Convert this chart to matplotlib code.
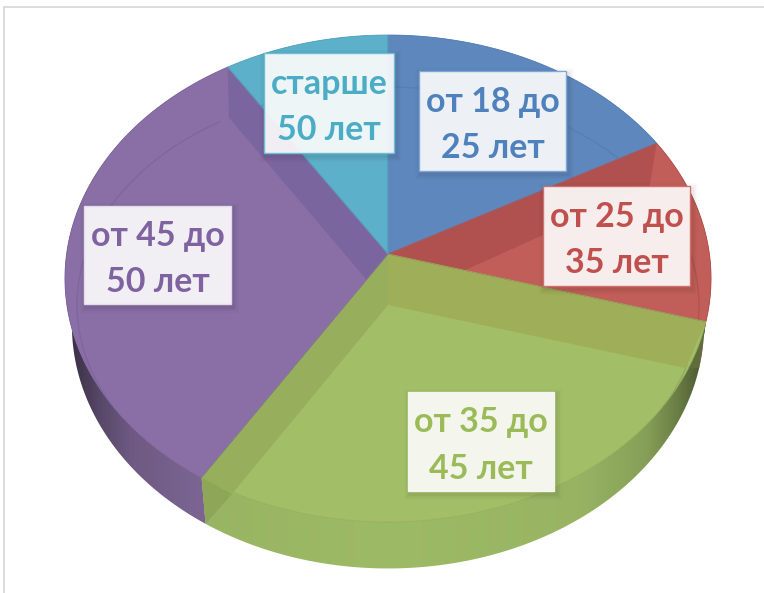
import numpy as np
import matplotlib
matplotlib.use("Agg")
import matplotlib.pyplot as plt
from matplotlib.patches import Polygon, Rectangle

# ---- data ----
categories = ["от 18 до\n25 лет", "от 25 до\n35 лет", "от 35 до\n45 лет", "от 45 до\n50 лет", "старше\n50 лет"]
shares = [17.0, 12.4, 29.5, 32.0, 9.1]

# ---- style ----
top_colors = ["#5e88bd", "#c25e59", "#a2bf68", "#8a6fa6", "#5cb0c9"]
wall_colors = ["#4f77a8", "#a84f4b", "#9dba66", "#7f6897", "#4f9cb2"]
text_colors = ["#4f81bd", "#c0504d", "#9bbb59", "#7f63a1", "#4bacc6"]
box_edges = ["#7fa6d6", "#d06f6b", "#f4f6ee", "#e2dbea", "#6dbdd4"]
cut_colors = [None, "#b0504f", "#9fae58", "#97af5d", "#7a659f"]
arc_colors = ["#5680b4", "#b2534f", "#93ad5a", "#7f66a0", "#55a5bd"]
label_boxes = [(419, 71, 147, 100), (543, 186, 147, 100), (408, 392, 146, 99),
               (84, 206, 147, 98), (264, 53, 130, 100)]
inner_skew_deg = [0, -4, 1, -2, 2]

# ---- pie projection, figure pixels ----
AX, AY = 388.0, 254.0       # apex of top face
B, A, K = 321.4, 241.0, 0.1006
BOT_Y, BOT_B = 300.5, 314.5  # bottom rim
IN_X, IN_Y, IN_RX, IN_RY = 388.0, 305.0, 311.0, 218.0  # visible inner rim


def rim(phi, cx=AX, cy=AY, b=B):
    X, Y = np.sin(phi), np.cos(phi)
    d = 1 + K * Y
    return np.column_stack([cx + b * X / d, cy - A * Y / d])


def inner(phi):
    return np.column_stack([IN_X + IN_RX * np.sin(phi), IN_Y - IN_RY * np.cos(phi)])


def arc(a0, a1, n=160):
    return np.linspace(a0, a1, n)


edges = 2 * np.pi * np.concatenate([[0], np.cumsum(shares)]) / np.sum(shares)
skew = np.radians(inner_skew_deg + [0])

fig = plt.figure(figsize=(7.64, 5.93), dpi=100)
ax = fig.add_axes([0, 0, 1, 1])
ax.set_xlim(0, 764)
ax.set_ylim(593, 0)
ax.axis("off")

# outer frame of the screenshot
ax.plot([3.5, 3.5, 764], [593, 6.5, 6.5], color="#dcdcdc", lw=1.4, solid_joinstyle="miter")

# side walls, shaded towards the silhouette
xs = np.linspace(60, 720, 661)
dist = np.abs(xs - AX) / BOT_B
shade = np.interp(dist, [0, .6, .82, .92, 1], [1, .97, .86, .68, .48])
for i in range(len(shares)):
    ph = arc(edges[i], edges[i + 1])
    pts = np.vstack([rim(ph), rim(ph[::-1], AX, BOT_Y, BOT_B)])
    poly = Polygon(pts, closed=True, fc="none", ec="none", transform=ax.transData)
    ax.add_patch(poly)
    rgb = np.array(matplotlib.colors.to_rgb(wall_colors[i]))
    img = (shade[:, None] * rgb)[None, :, :]
    im = ax.imshow(img, extent=(60, 720, 600, 0), aspect="auto", zorder=1, interpolation="bilinear")
    im.set_clip_path(poly)
ax.set_xlim(0, 764)
ax.set_ylim(593, 0)

# dark corners where the cut faces meet the walls
for j, col in [(2, "#5f6d3a"), (3, "#8da658")]:
    p = np.array([edges[j]])
    tri = np.vstack([rim(p), inner(p + skew[j]), rim(p, AX, BOT_Y, BOT_B)])
    ax.add_patch(Polygon(tri, closed=True, fc=col, ec="none", zorder=2))

# top faces
for i in range(len(shares)):
    ph = arc(edges[i], edges[i + 1])
    pts = np.vstack([[AX, AY], rim(ph)])
    face = Polygon(pts, closed=True, fc=top_colors[i], ec="none", zorder=3)
    ax.add_patch(face)
    # seen-through inner rim
    ln, = ax.plot(*inner(ph).T, color=arc_colors[i], lw=1.0, zorder=4)
    ln.set_clip_path(face)
    # seen-through cut faces
    for j in (i, i + 1):
        c = cut_colors[j % len(shares)]
        if c is None:
            continue
        p = np.array([edges[j]])
        quad = np.vstack([rim(p), [[AX, AY]], [[IN_X, IN_Y]], inner(p + skew[j])])
        q = Polygon(quad, closed=True, fc=c, ec="none", zorder=4)
        ax.add_patch(q)
        q.set_clip_path(face)

# wedge seams and rim line
for i in range(len(shares)):
    ph = arc(edges[i], edges[i + 1])
    pts = np.vstack([[AX, AY], rim(ph)])
    ax.add_patch(Polygon(pts, closed=True, fc="none", ec=arc_colors[i], lw=0.6, zorder=5))

# labels
for name, col, edge, (x, y, w, h) in zip(categories, text_colors, box_edges, label_boxes):
    for grow, al in [(6, .02), (4, .03), (2, .04)]:
        ax.add_patch(Rectangle((x + 2 - grow, y + 3 - grow), w + 2 * grow, h + 2 * grow,
                               fc="black", ec="none", alpha=al, zorder=6))
    ax.add_patch(Rectangle((x, y), w, h, fc="#ffffff", ec="none", alpha=.9, zorder=7))
    ax.add_patch(Rectangle((x, y), w, h, fc="none", ec=edge, lw=1.0, zorder=7))
    ax.text(x + w / 2, y + h / 2 + 4, name, color=col, fontsize=24.5, fontweight="bold", family="Lato",
            ha="center", va="center", linespacing=1.55, zorder=8)

fig.savefig("out.png", dpi=100)
